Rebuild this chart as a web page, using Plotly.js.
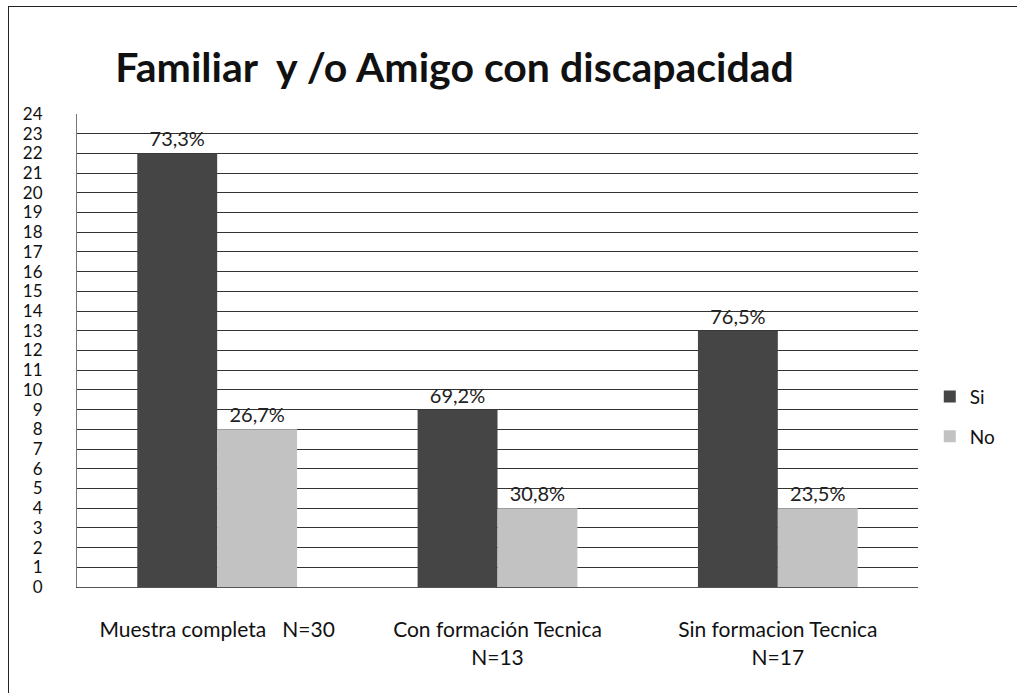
<!DOCTYPE html>
<html><head><meta charset="utf-8">
<script src="https://cdn.plot.ly/plotly-3.0.1.min.js"></script>
<style>
body{margin:0;background:#fff;}
#frame{position:absolute;left:8px;top:6px;width:1009px;height:687px;border-left:1.5px solid #222;border-top:1.5px solid #222;box-sizing:border-box;}
#chart{position:absolute;left:0;top:0;width:1017px;height:693px;}
</style></head>
<body>
<div id="chart"></div>
<div id="frame"></div>
<script>
const categories = ["Muestra completa   N=30", "Con formación Tecnica<br>N=13", "Sin formacion Tecnica<br>N=17"];
const siValues = [22, 9, 13];
const noValues = [8, 4, 4];
const siLabels = ["73,3%", "69,2%", "76,5%"];
const noLabels = ["26,7%", "30,8%", "23,5%"];
const yTicks = [0,1,2,3,4,5,6,7,8,9,10,11,12,13,14,15,16,17,18,19,20,21,22,23,24];

const font = "Lato, 'Open Sans', sans-serif";
const traces = [
  {type:'bar', name:'Si', legendgroup:'si', x:categories, y:siValues, text:siLabels, textposition:'outside',
   marker:{color:'#454545', line:{width:0}},
   textfont:{family:font, size:20, color:'#222'}, cliponaxis:false},
  {type:'bar', name:'No', legendgroup:'no', x:categories, y:noValues, text:noLabels, textposition:'outside',
   marker:{color:'#c2c2c2', line:{width:0}},
   textfont:{family:font, size:20, color:'#222'}, cliponaxis:false}
];
const layout = {
  width:1017, height:693,
  margin:{l:77, r:99, t:114, b:106, autoexpand:false},
  paper_bgcolor:'#fff', plot_bgcolor:'#fff',
  title:{text:'<b>Familiar  y /o Amigo con discapacidad</b>', x:0.447, xanchor:'center', y:0.902, yanchor:'middle',
    font:{family:font, size:41, color:'#111'}},
  barmode:'group', bargap:0.43, bargroupgap:0,
  showlegend:true,
  legend:{x:1.014, y:0.36, xanchor:'left', yanchor:'middle', font:{family:font, size:19, color:'#111'},
    tracegroupgap:12, itemwidth:30, traceorder:'grouped'},
  xaxis:{type:'category', tickfont:{family:font, size:21, color:'#111'}, ticks:'outside', ticklen:24,
    tickcolor:'rgba(0,0,0,0)', showline:true, linecolor:'#555', linewidth:1},
  yaxis:{range:[0,24], tickvals:yTicks, ticktext:yTicks.map(String), tickfont:{family:font, size:17, color:'#111'},
    ticks:'outside', ticklen:30, tickcolor:'rgba(0,0,0,0)', showgrid:true, gridcolor:'#333', gridwidth:1,
    zeroline:true, zerolinecolor:'#555', showline:true, linecolor:'#777', linewidth:1},
};
Plotly.newPlot('chart', traces, layout, {displayModeBar:false, staticPlot:true});
</script>
</body></html>
